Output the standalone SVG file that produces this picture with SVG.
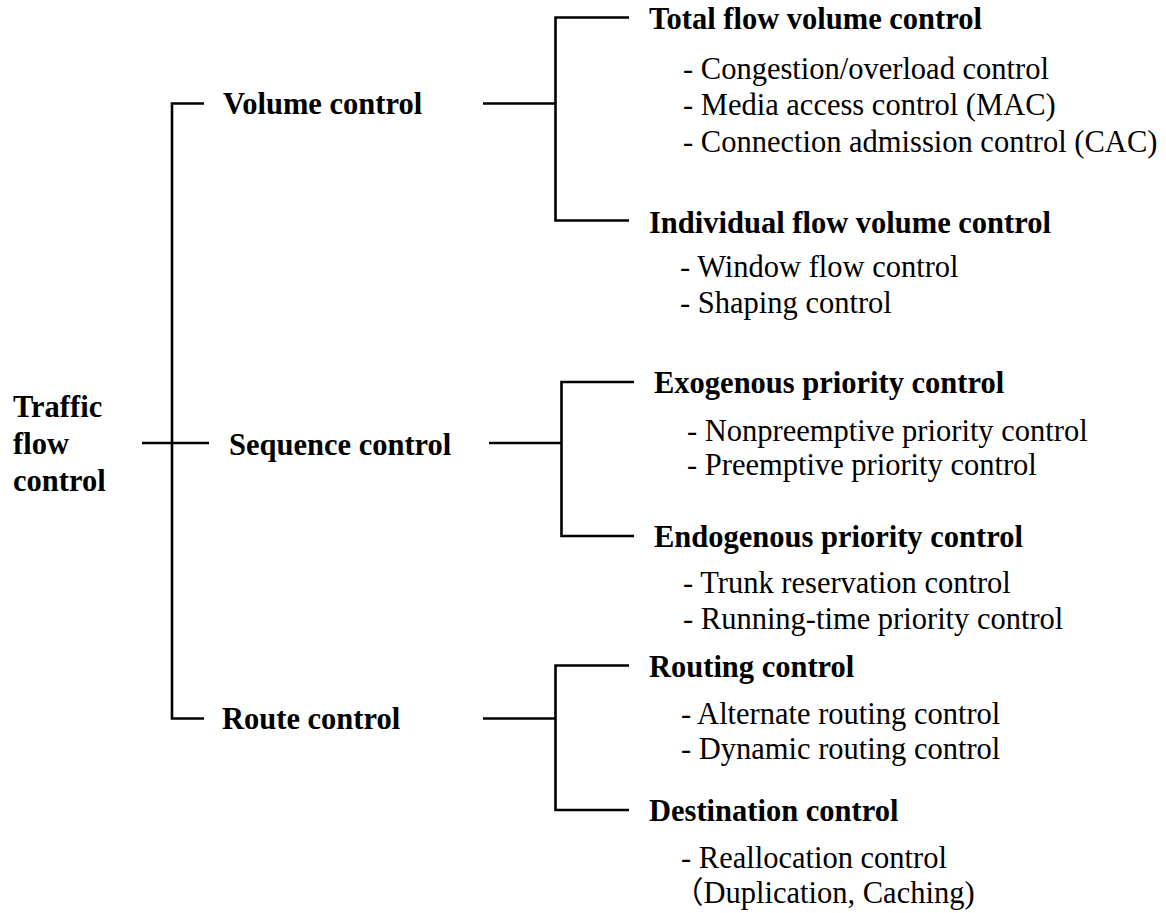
<svg xmlns="http://www.w3.org/2000/svg" width="1166" height="913" viewBox="0 0 1166 913">
  <style>
    .bg { fill: #ffffff; }
    .ln { fill: none; stroke: #000000; stroke-width: 2.6; stroke-linecap: butt; stroke-linejoin: miter; }
    .hd { font-family: "Liberation Serif", "Times New Roman", serif; font-size: 30.5px; font-weight: bold; fill: #000000; }
    .it { font-family: "Liberation Serif", "Times New Roman", "Noto Sans CJK JP", serif; font-size: 30.5px; fill: #000000; }
  </style>
  <rect class="bg" x="0" y="0" width="1166" height="913"/>

  <!-- tree connectors -->
  <g id="connectors">
    <!-- root bracket -->
    <path class="ln" d="M204 103.5 H172 V718.5 H204"/>
    <path class="ln" d="M142 443 H209"/>
    <!-- volume control bracket -->
    <path class="ln" d="M483 103.5 H555.5"/>
    <path class="ln" d="M629 17.5 H555.5 V220.5 H629"/>
    <!-- sequence control bracket -->
    <path class="ln" d="M489 443 H561.5"/>
    <path class="ln" d="M634 382 H561.5 V536 H634"/>
    <!-- route control bracket -->
    <path class="ln" d="M483 718.5 H555.5"/>
    <path class="ln" d="M629 665.5 H555.5 V810 H629"/>
  </g>

  <g id="root">
    <text class="hd" x="13" y="417">Traffic</text>
    <text class="hd" x="13" y="454">flow</text>
    <text class="hd" x="13" y="491">control</text>
  </g>

  <g id="volume-control">
    <text class="hd" x="223" y="114">Volume control</text>
  </g>
  <g id="sequence-control">
    <text class="hd" x="229" y="455">Sequence control</text>
  </g>
  <g id="route-control">
    <text class="hd" x="222" y="729">Route control</text>
  </g>

  <g id="total-flow-volume-control">
    <text class="hd" x="649" y="29">Total flow volume control</text>
    <text class="it" x="683" y="79">- Congestion/overload control</text>
    <text class="it" x="683" y="115">- Media access control (MAC)</text>
    <text class="it" x="683" y="152">- Connection admission control (CAC)</text>
  </g>

  <g id="individual-flow-volume-control">
    <text class="hd" x="649" y="233">Individual flow volume control</text>
    <text class="it" x="680" y="277">- Window flow control</text>
    <text class="it" x="680" y="313">- Shaping control</text>
  </g>

  <g id="exogenous-priority-control">
    <text class="hd" x="654" y="393">Exogenous priority control</text>
    <text class="it" x="687" y="441">- Nonpreemptive priority control</text>
    <text class="it" x="687" y="475">- Preemptive priority control</text>
  </g>

  <g id="endogenous-priority-control">
    <text class="hd" x="654" y="547">Endogenous priority control</text>
    <text class="it" x="683" y="593">- Trunk reservation control</text>
    <text class="it" x="683" y="629">- Running-time priority control</text>
  </g>

  <g id="routing-control">
    <text class="hd" x="649" y="677">Routing control</text>
    <text class="it" x="681" y="724">- Alternate routing control</text>
    <text class="it" x="681" y="759">- Dynamic routing control</text>
  </g>

  <g id="destination-control">
    <text class="hd" x="649" y="821">Destination control</text>
    <text class="it" x="681" y="868">- Reallocation control</text>
    <text class="it" x="673" y="903">（Duplication, Caching)</text>
  </g>
</svg>
